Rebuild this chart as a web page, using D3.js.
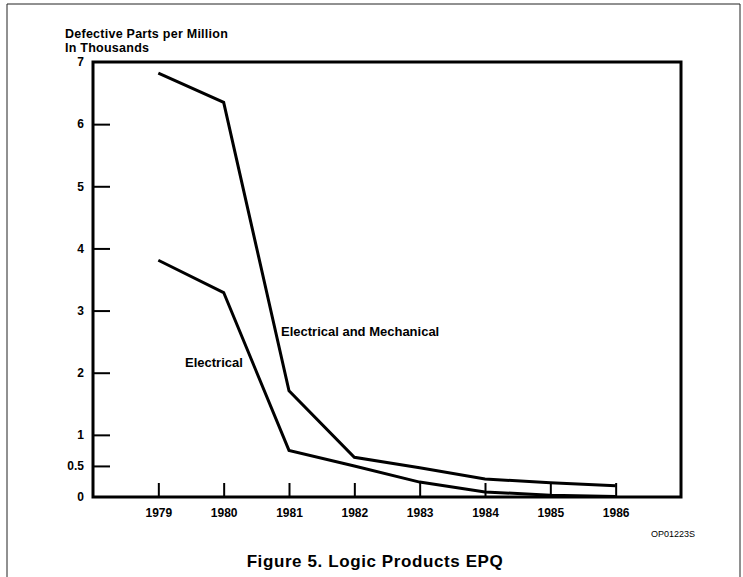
<!DOCTYPE html>
<html>
<head>
<meta charset="utf-8">
<script src="https://cdn.jsdelivr.net/npm/d3@7"></script>
<style>
  html, body { margin: 0; padding: 0; background: #fff; }
  svg { display: block; font-family: "Liberation Sans", Arial, Helvetica, sans-serif; }
</style>
</head>
<body>
<svg id="chart" width="743" height="577"></svg>
<script>
const years = [1979, 1980, 1981, 1982, 1983, 1984, 1985, 1986];
const electricalMechanical = [6.82, 6.35, 1.71, 0.64, 0.47, 0.29, 0.23, 0.18];
const electrical = [3.81, 3.29, 0.75, 0.50, 0.24, 0.08, 0.03, 0.01];
const yTickValues = [0, 0.5, 1, 2, 3, 4, 5, 6, 7];
const seriesNames = ["Electrical and Mechanical", "Electrical"];
const yTitleLines = ["Defective Parts per Million", "In Thousands"];
const figureTitle = "Figure 5. Logic Products EPQ";
const figureCode = "OP01223S";

(function () {
const svg = d3.select("#chart");
const mLeft = 93, mRight = 681, mTop = 62, mBottom = 497;

const x = d3.scaleLinear().domain([1978, 1987]).range([mLeft, mRight]);
const y = d3.scaleLinear().domain([0, 7]).range([mBottom, mTop]);

// outer figure border (open at bottom)
svg.append("path")
  .attr("d", `M7,577 V4 H740 V577`)
  .attr("fill", "none").attr("stroke", "#222").attr("stroke-width", 1);

// plot frame
svg.append("rect")
  .attr("x", mLeft).attr("y", mTop)
  .attr("width", mRight - mLeft).attr("height", mBottom - mTop)
  .attr("fill", "none").attr("stroke", "#000").attr("stroke-width", 3);

// y axis ticks (inward) and labels
const yAxis = d3.axisLeft(y).tickValues(yTickValues).tickSize(0).tickPadding(9)
  .tickFormat(d => d === 0.5 ? "0.5" : d3.format("d")(d));
const gy = svg.append("g").attr("transform", `translate(${mLeft},0)`).call(yAxis);
gy.select(".domain").remove();
gy.selectAll(".tick text")
  .attr("font-size", 12).attr("font-weight", "bold").attr("fill", "#000")
  .attr("font-family", "Liberation Sans, Arial, sans-serif");
gy.selectAll(".tick").filter(d => d > 0 && d < 7).append("line")
  .attr("x1", 0).attr("x2", 17).attr("stroke", "#000").attr("stroke-width", 2);

// x axis ticks (upward) and labels
const xAxis = d3.axisBottom(x).tickValues(years).tickSize(0).tickPadding(11)
  .tickFormat(d3.format("d"));
const gx = svg.append("g").attr("transform", `translate(0,${mBottom})`).call(xAxis);
gx.select(".domain").remove();
gx.selectAll(".tick text")
  .attr("font-size", 12).attr("font-weight", "bold").attr("fill", "#000")
  .attr("font-family", "Liberation Sans, Arial, sans-serif");
gx.selectAll(".tick").append("line")
  .attr("y1", 0).attr("y2", -14).attr("stroke", "#000").attr("stroke-width", 2);

// lines
const line = d3.line().x((d, i) => x(years[i])).y(d => y(d));
[electricalMechanical, electrical].forEach(s => {
  svg.append("path").datum(s).attr("d", line)
    .attr("fill", "none").attr("stroke", "#000").attr("stroke-width", 3)
    .attr("stroke-linejoin", "miter");
});

// series labels
svg.append("text").attr("x", 281).attr("y", 335.5)
  .attr("font-size", 13).attr("font-weight", "bold").text(seriesNames[0]);
svg.append("text").attr("x", 185).attr("y", 366.5)
  .attr("font-size", 13).attr("font-weight", "bold").text(seriesNames[1]);

// y title
svg.append("text").attr("x", 65).attr("y", 38)
  .attr("font-size", 12.5).attr("font-weight", "bold").attr("letter-spacing", 0.25)
  .text(yTitleLines[0]);
svg.append("text").attr("x", 65).attr("y", 52)
  .attr("font-size", 12.5).attr("font-weight", "bold").attr("letter-spacing", 0.25)
  .text(yTitleLines[1]);

// figure code
svg.append("text").attr("x", 651).attr("y", 536.5)
  .attr("font-size", 9).text(figureCode);

// figure title
svg.append("text").attr("x", 375).attr("y", 567).attr("text-anchor", "middle")
  .attr("font-size", 17).attr("font-weight", "bold").attr("letter-spacing", 0.6)
  .text(figureTitle);
})();
</script>
</body>
</html>
